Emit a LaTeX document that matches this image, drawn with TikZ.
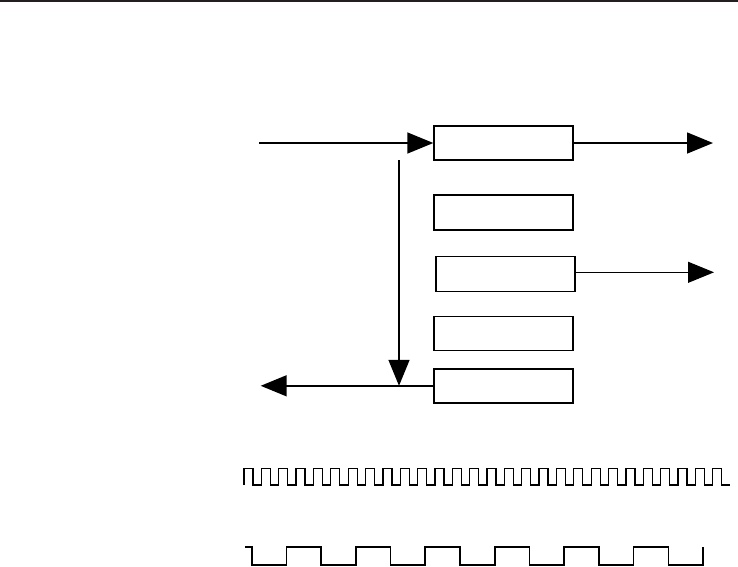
\documentclass[tikz,border=0pt]{standalone}
\usetikzlibrary{arrows.meta}
\definecolor{rulegray}{HTML}{231F20}

\begin{document}
\begin{tikzpicture}[x=1pt,y=-1pt,
    reg/.style={draw,line width=1.4pt,minimum width=139pt,minimum height=34pt,inner sep=0pt},
    sig/.style={line width=1.5pt,-{Triangle[length=26pt,width=21pt]}}]
        \useasboundingbox (0,0) rectangle (738,566);
        \draw[rulegray,line width=2pt] (0,1) -- (738,1);
        \node[reg] (r1) at (503.5,143) {};
        \node[reg,minimum height=35pt] (r2) at (503.5,212.5) {};
        \node[reg,minimum height=35pt] (r3) at (505.3,274.2) {};
        \node[reg] (r4) at (503.5,333.7) {};
        \node[reg] (r5) at (503.5,385.8) {};
        \coordinate (in) at (259,143);
        \coordinate (out1) at (713,143);
        \coordinate (out3) at (714,272.3);
        \coordinate (back) at (260.7,385.8);
        \coordinate (tap) at (399,160);
        \draw[sig] (in) -- (r1.west);
        \draw[sig] (r1.east) -- (out1);
        \draw[sig,line width=1.1pt] (r3.east |- out3) -- (out3);
        \draw[sig] (tap) -- (tap |- r5.west);
        \draw[sig] (r5.west) -- (back);
        % clocks
        \draw[line width=1.3pt] (244,485) foreach \k in {0,...,27} {
            -- ++(0,-16.7) -- ++(9,0) -- ++(0,16.7) -- ++(8.36,0)};
        \draw[line width=1.7pt] (245,546.7) foreach \k [evaluate=\k as \x using 251.7+69.44*\k] in {0,...,6} {
            -- (\x,546.7) -- (\x,565) -- (\x+34.72,565) -- (\x+34.72,546.7)};
      \end{tikzpicture}
\end{document}
